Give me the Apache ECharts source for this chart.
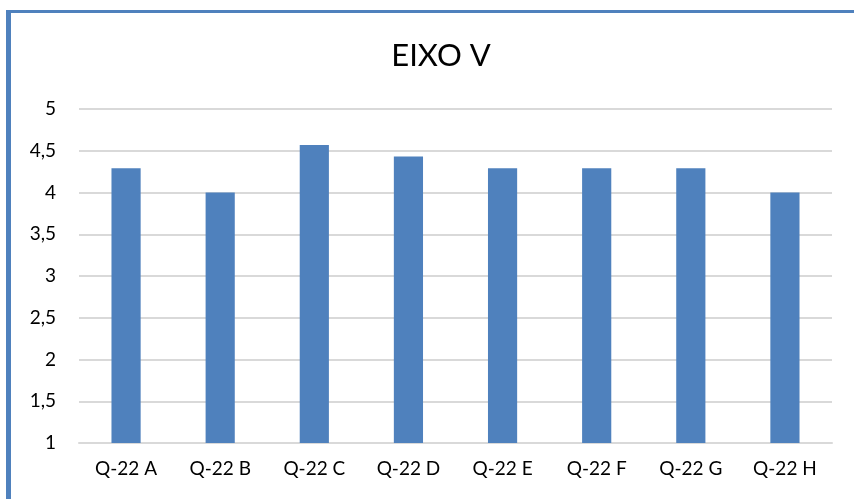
<!DOCTYPE html>
<html>
<head>
<meta charset="utf-8">
<script src="https://cdn.jsdelivr.net/npm/echarts@6/dist/echarts.min.js"></script>
<style>
html,body{margin:0;padding:0;background:#fff;}
#chart{width:854px;height:499px;}
</style>
</head>
<body>
<div id="chart"></div>
<script>
const categories = ['Q-22 A','Q-22 B','Q-22 C','Q-22 D','Q-22 E','Q-22 F','Q-22 G','Q-22 H'];
const values = [4.29, 4.00, 4.57, 4.43, 4.29, 4.29, 4.29, 4.00];
const titleText = 'EIXO V';

const chart = echarts.init(document.getElementById('chart'));
const fontFam = 'Lato, "Noto Sans", sans-serif';
chart.setOption({
  animation: false,
  backgroundColor: '#fff',
  title: {
    text: titleText,
    left: 436, top: 35, textAlign: 'center',
    textStyle: {fontFamily: fontFam, fontSize: 31, fontWeight: 'normal', color: '#000'}
  },
  grid: {left: 79, right: 22, top: 109, bottom: 56, containLabel: false},
  xAxis: {
    type: 'category', data: categories,
    axisLine: {show: true, lineStyle: {color: '#d9d9d9', width: 2}},
    axisTick: {show: false},
    axisLabel: {fontFamily: fontFam, fontSize: 19, color: '#000', margin: 16}
  },
  yAxis: {
    type: 'value', min: 1, max: 5, interval: 0.5,
    axisLine: {show: false}, axisTick: {show: false},
    splitLine: {lineStyle: {color: '#d9d9d9', width: 2}},
    axisLabel: {fontFamily: fontFam, fontSize: 19, color: '#000', margin: 23,
      formatter: v => String(v).replace('.', ',')}
  },
  series: [{
    type: 'bar', data: values, barWidth: '31%',
    itemStyle: {color: '#4f81bd'}
  }],
  graphic: [
    {type: 'rect', shape: {x: 6, y: 10, width: 848, height: 3}, style: {fill: '#4f81bd'}, z: 100},
    {type: 'rect', shape: {x: 6, y: 10, width: 5, height: 489}, style: {fill: '#4f81bd'}, z: 100}
  ]
});
</script>
</body>
</html>
